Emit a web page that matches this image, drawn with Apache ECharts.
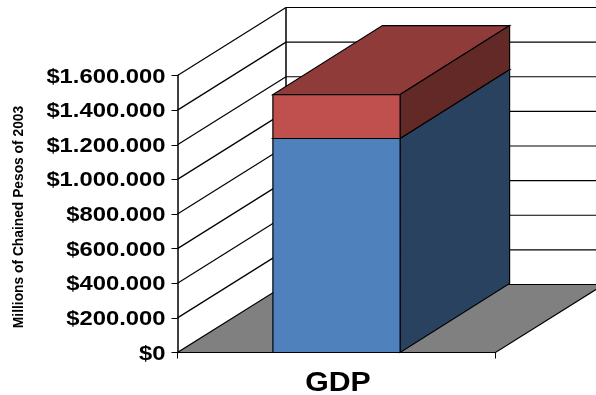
<!DOCTYPE html>
<html>
<head>
<meta charset="utf-8">
<style>html,body{margin:0;padding:0;background:#fff}#chart{width:596px;height:395px}</style>
<script src="https://cdn.jsdelivr.net/npm/echarts@6/dist/echarts.min.js"></script>
</head>
<body>
<div id="chart"></div>
<script>
// GDP column, millions of chained pesos of 2003
const categories = ['GDP'];
const lowerValues = [1236000];
const upperValues = [254000];
const tickValues = [0, 200000, 400000, 600000, 800000, 1000000, 1200000, 1400000, 1600000];
const tickLabels = ['$0', '$200.000', '$400.000', '$600.000', '$800.000', '$1.000.000', '$1.200.000', '$1.400.000', '$1.600.000'];

// Oblique projection: how far the rear plane is shifted from the front one
const WALL_DEPTH = [108.5, 68];
const BLOCK_DEPTH = [109.5, 69];
const FONT = '"Liberation Sans", Arial, sans-serif';
const INK = '#000';

const shift = ([x, y], depth) => [x + depth[0], y - depth[1]];
const rear = (p) => shift(p, WALL_DEPTH);
const edge = (p, q, lineWidth = 1.2) => ({
  type: 'line',
  shape: { x1: p[0], y1: p[1], x2: q[0], y2: q[1] },
  style: { stroke: INK, lineWidth }
});
const face = (points, fill) => ({
  type: 'polygon',
  shape: { points },
  style: { fill, stroke: INK, lineWidth: 1.2, lineJoin: 'miter' }
});
const stretchedText = (text, x, y, size, align, scaleX) => ({
  type: 'text',
  x, y, scaleX,
  style: { text, fill: INK, font: `bold ${size}px ${FONT}`, align, verticalAlign: 'middle' }
});

// Floor, side wall, rear wall, grid lines and the wide axis text
function renderFrame(params, api) {
  const bandWidth = api.size([1, 0])[0];
  const centre = api.coord([0, 0])[0];
  const left = centre - bandWidth / 2;
  const right = centre + bandWidth / 2;
  const baseY = api.coord([0, 0])[1];
  const topY = api.coord([0, tickValues[tickValues.length - 1]])[1];
  const children = [];

  children.push(face([[left, baseY], [right, baseY], rear([right, baseY]), rear([left, baseY])], '#808080'));
  children.push(edge(rear([left, baseY]), rear([left, topY]), 1.5));

  tickValues.forEach((v, i) => {
    const y = api.coord([0, v])[1];
    if (v > 0) {
      children.push(edge([left, y], rear([left, y])));
      children.push(edge(rear([left, y]), rear([right, y])));
    }
    children.push(stretchedText(tickLabels[i], left - 12, y + 1.5, 20, 'right', 1.19));
  });

  children.push(stretchedText(categories[0], centre + 1.5, baseY + 31, 27, 'center', 1.12));
  return { type: 'group', children };
}

// One stacked segment of the block: front, right side and top faces
function segmentRenderer(frontFill, sideFill, topFill) {
  return function (params, api) {
    const bandWidth = api.size([1, 0])[0];
    const half = bandWidth * 0.2;
    const cx = api.coord([api.value(0), 0])[0];
    const y0 = api.coord([0, api.value(1)])[1];
    const y1 = api.coord([0, api.value(2)])[1];
    const fl = [cx - half, y0], fr = [cx + half, y0];
    const tl = [cx - half, y1], tr = [cx + half, y1];
    const back = (p) => shift(p, BLOCK_DEPTH);
    return {
      type: 'group',
      children: [
        face([tl, tr, back(tr), back(tl)], topFill),
        face([fr, tr, back(tr), back(fr)], sideFill),
        face([fl, fr, tr, tl], frontFill)
      ]
    };
  };
}

const lowerData = categories.map((c, i) => [i, 0, lowerValues[i]]);
const upperData = categories.map((c, i) => [i, lowerValues[i], lowerValues[i] + upperValues[i]]);

const chart = echarts.init(document.getElementById('chart'), null, { renderer: 'canvas' });
chart.setOption({
  animation: false,
  backgroundColor: '#fff',
  grid: { left: 177.5, top: 75.5, width: 318, height: 277, outerBoundsMode: 'none' },
  xAxis: {
    type: 'category',
    data: categories,
    axisLine: { show: true, lineStyle: { color: INK, width: 1 } },
    axisTick: { show: true, length: 6, lineStyle: { color: INK, width: 1 } },
    axisLabel: { show: false }
  },
  yAxis: {
    type: 'value',
    min: 0,
    max: 1600000,
    interval: 200000,
    name: 'Millions of Chained Pesos of 2003',
    nameLocation: 'middle',
    nameRotate: 90,
    nameGap: 151,
    nameTextStyle: { fontFamily: FONT, fontWeight: 'bold', fontSize: 13.8, color: INK, padding: [0, 6, 0, 0] },
    axisLine: { show: true, lineStyle: { color: INK, width: 1.5 } },
    axisTick: { show: true, length: 6, lineStyle: { color: INK, width: 1 } },
    axisLabel: { show: false },
    splitLine: { show: false }
  },
  series: [
    { type: 'custom', name: 'Frame', data: [[0]], renderItem: renderFrame, silent: true, z: 1 },
    { type: 'custom', name: 'Lower', data: lowerData, renderItem: segmentRenderer('#4F81BD', '#284260', '#284260'), z: 2 },
    { type: 'custom', name: 'Upper', data: upperData, renderItem: segmentRenderer('#C0504D', '#622927', '#8E3B3A'), z: 3 }
  ]
});
</script>
</body>
</html>
